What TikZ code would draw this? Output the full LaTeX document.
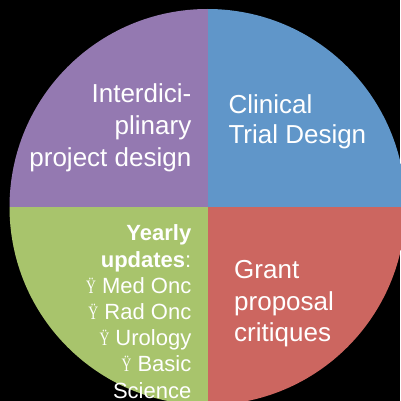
\documentclass[tikz,border=0pt]{standalone}
\usepackage{fontspec}
\usepackage{graphicx}
\setmainfont{Liberation Sans}
\newfontfamily\ybulletfont{Liberation Serif}
\definecolor{qpurple}{RGB}{148,121,177}
\definecolor{qblue}{RGB}{96,150,201}
\definecolor{qred}{RGB}{204,102,96}
\definecolor{qgreen}{RGB}{168,196,108}
\newcommand\ybul{{\ybulletfont\fontsize{19}{19}\selectfont\scalebox{0.72}[1]{Ÿ}}\ }
\tikzset{
  bigtext/.style={text=white, inner sep=0pt, font=\fontsize{26}{31.5}\selectfont},
  smalltext/.style={text=white, inner sep=0pt, font=\fontsize{22}{26.2}\selectfont}
}
\begin{document}
\begin{tikzpicture}[x=1pt,y=-1pt]
\useasboundingbox (0,0) rectangle (400,401);
\fill[black] (0,0) rectangle (400,401);
\coordinate (c) at (207.5,207);
\begin{scope}
  \clip (c) circle[radius=198];
  \fill[qpurple] (c) rectangle (-10,-10);
  \fill[qblue] (c) rectangle (420,-10);
  \fill[qred] (c) rectangle (420,420);
  \fill[qgreen] (c) rectangle (-10,420);
\end{scope}
\node[bigtext, anchor=base east, align=right, font=\fontsize{26}{32.2}\selectfont] (inter) at (191.5,166.7)
  {Interdici-\\plinary\\project design};
\node[bigtext, anchor=base west, align=left, font=\fontsize{26}{30.2}\selectfont] (clin) at (228.3,143.5)
  {Clinical\\Trial Design};
\node[bigtext, anchor=base west, align=left] (grant) at (234,341.7)
  {Grant\\proposal\\critiques};
\node[smalltext, anchor=base east, align=right] (yearly) at (191.5,398)
  {\textbf{Yearly}\\\textbf{updates}:\\\ybul Med Onc\\\ybul Rad Onc\\\ybul Urology\\\ybul Basic\\Science};
\end{tikzpicture}
\end{document}
